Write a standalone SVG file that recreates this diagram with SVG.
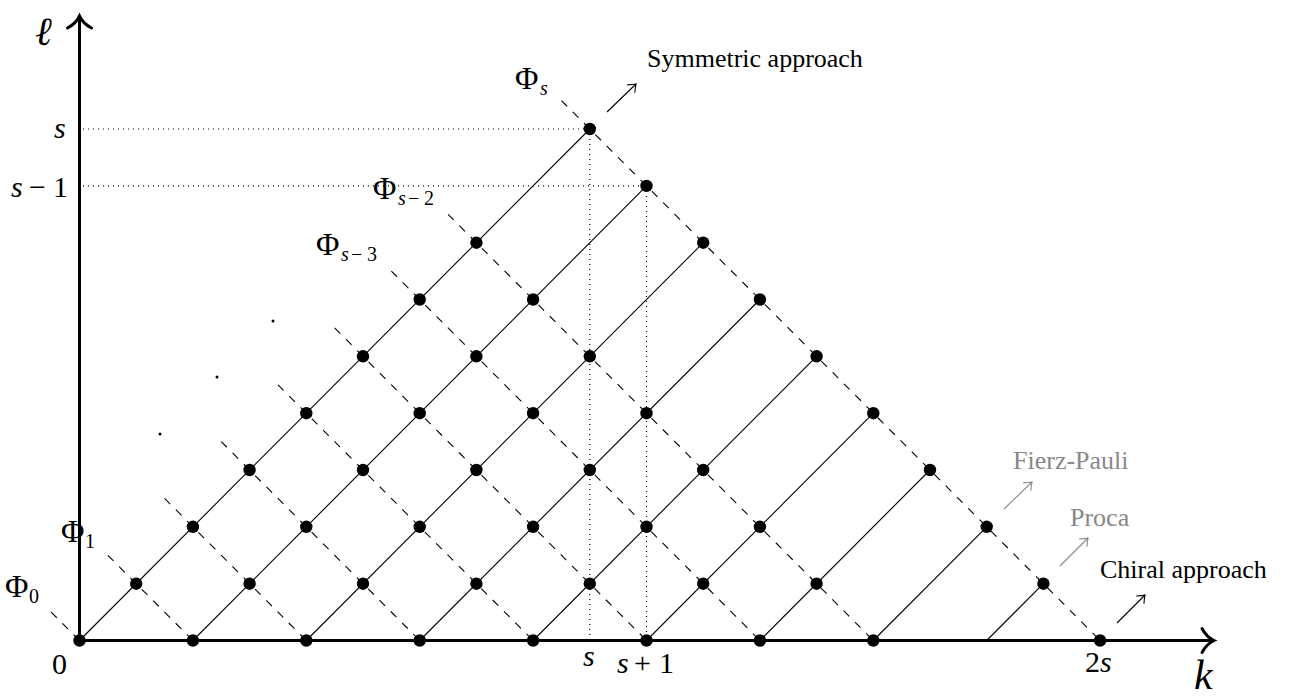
<svg xmlns="http://www.w3.org/2000/svg" width="1292" height="697" viewBox="0 0 1292 697">
<style>
.axis{stroke:#000;stroke-width:3;fill:none;stroke-linecap:round}
.solid{stroke:#000;stroke-width:1.1;fill:none}
.dash{stroke:#000;stroke-width:1.1;fill:none;stroke-dasharray:8 8}
.dot{stroke:#000;stroke-width:1.2;fill:none;stroke-dasharray:1 4}
.node circle{fill:#000}
.arr{stroke:#000;stroke-width:1.1;fill:none}
.garr{stroke:#888;stroke-width:1.1;fill:none}
text{font-family:"Liberation Serif","DejaVu Serif",serif;fill:#000}
.it{font-style:italic}
.lbl{font-size:26px}
.phi{font-size:32px}
.sub{font-size:20px}
.num{font-size:30px}
.gray{fill:#888}
</style>
<defs>
<marker id="tob" markerUnits="userSpaceOnUse" orient="auto" markerWidth="20" markerHeight="20" refX="0" refY="0" viewBox="-10 -10 20 20" overflow="visible">
<path d="M-7,-5.5 Q-2.5,-1.5 0,0 Q-2.5,1.5 -7,5.5" stroke="#000" stroke-width="1.1" fill="none"/>
</marker>
<marker id="tog" markerUnits="userSpaceOnUse" orient="auto" markerWidth="20" markerHeight="20" refX="0" refY="0" viewBox="-10 -10 20 20" overflow="visible">
<path d="M-7,-5.5 Q-2.5,-1.5 0,0 Q-2.5,1.5 -7,5.5" stroke="#888" stroke-width="1.1" fill="none"/>
</marker>
</defs>
<rect width="1292" height="697" fill="#fff"/>

<g id="guides">
<line class="dot" x1="83" y1="129" x2="589.8" y2="129"/>
<line class="dot" x1="83" y1="185.9" x2="646.5" y2="185.9"/>
<line class="dot" x1="589.8" y1="129" x2="589.8" y2="636"/>
<line class="dot" x1="646.5" y1="185.9" x2="646.5" y2="640"/>
</g>

<g id="connectors">
<line class="dash" x1="51.15" y1="612.1" x2="79.5" y2="640.5"/>
<line class="dash" x1="107.85" y1="555.3" x2="192.9" y2="640.5"/>
<line class="dash" x1="164.55" y1="498.4" x2="306.3" y2="640.5"/>
<line class="dash" x1="221.25" y1="441.6" x2="419.7" y2="640.5"/>
<line class="dash" x1="277.95" y1="384.8" x2="533.1" y2="640.5"/>
<line class="dash" x1="334.65" y1="327.9" x2="646.5" y2="640.5"/>
<line class="dash" x1="391.35" y1="271.1" x2="759.9" y2="640.5"/>
<line class="dash" x1="448.05" y1="214.3" x2="873.3" y2="640.5"/>
<line class="dash" x1="561.45" y1="100.6" x2="1100.1" y2="640.5"/>
<line class="solid" x1="79.5" y1="640.5" x2="589.8" y2="129"/>
<line class="solid" x1="192.9" y1="640.5" x2="646.5" y2="185.9"/>
<line class="solid" x1="306.3" y1="640.5" x2="703.2" y2="242.7"/>
<line class="solid" x1="419.7" y1="640.5" x2="759.9" y2="299.5"/>
<line class="solid" x1="533.1" y1="640.5" x2="816.6" y2="356.3"/>
<line class="solid" x1="646.5" y1="640.5" x2="873.3" y2="413.2"/>
<line class="solid" x1="759.9" y1="640.5" x2="930" y2="470"/>
<line class="solid" x1="873.3" y1="640.5" x2="986.7" y2="526.8"/>
<line class="solid" x1="986.7" y1="640.5" x2="1043.4" y2="583.7"/>
<line class="arr" x1="607" y1="112" x2="636" y2="84" marker-end="url(#tob)"/>
<line class="garr" x1="1004" y1="509" x2="1032" y2="482" marker-end="url(#tog)"/>
<line class="garr" x1="1060" y1="566" x2="1088" y2="538" marker-end="url(#tog)"/>
<line class="arr" x1="1117" y1="623" x2="1145" y2="595" marker-end="url(#tob)"/>
</g>

<g id="axes">
<line class="axis" x1="79.5" y1="640.5" x2="79.5" y2="17"/>
<path class="axis" d="M67.5,28 Q76,23.5 79.5,16 Q83,23.5 91.5,28"/>
<line class="axis" x1="79.5" y1="640.5" x2="1213" y2="640.5"/>
<path class="axis" d="M1202,628.5 Q1206.5,637 1214,640.5 Q1206.5,644 1202,652.5"/>
<text class="it" x="35" y="45" font-size="40">ℓ</text>
<text class="it" x="1194" y="689" font-size="42">k</text>
</g>

<g id="ellipsis">
<circle cx="160" cy="434" r="1.5" fill="#000"/>
<circle cx="217" cy="377" r="1.5" fill="#000"/>
<circle cx="273" cy="321" r="1.5" fill="#000"/>
</g>

<g id="n0-0" class="node"><circle cx="79.5" cy="640.5" r="6.2"/></g>
<g id="n2-0" class="node"><circle cx="192.9" cy="640.5" r="6.2"/></g>
<g id="n1-1" class="node"><circle cx="136.2" cy="583.7" r="6.2"/></g>
<g id="n4-0" class="node"><circle cx="306.3" cy="640.5" r="6.2"/></g>
<g id="n3-1" class="node"><circle cx="249.6" cy="583.7" r="6.2"/></g>
<g id="n2-2" class="node"><circle cx="192.9" cy="526.8" r="6.2"/></g>
<g id="n6-0" class="node"><circle cx="419.7" cy="640.5" r="6.2"/></g>
<g id="n5-1" class="node"><circle cx="363" cy="583.7" r="6.2"/></g>
<g id="n4-2" class="node"><circle cx="306.3" cy="526.8" r="6.2"/></g>
<g id="n3-3" class="node"><circle cx="249.6" cy="470" r="6.2"/></g>
<g id="n8-0" class="node"><circle cx="533.1" cy="640.5" r="6.2"/></g>
<g id="n7-1" class="node"><circle cx="476.4" cy="583.7" r="6.2"/></g>
<g id="n6-2" class="node"><circle cx="419.7" cy="526.8" r="6.2"/></g>
<g id="n5-3" class="node"><circle cx="363" cy="470" r="6.2"/></g>
<g id="n4-4" class="node"><circle cx="306.3" cy="413.2" r="6.2"/></g>
<g id="n10-0" class="node"><circle cx="646.5" cy="640.5" r="6.2"/></g>
<g id="n9-1" class="node"><circle cx="589.8" cy="583.7" r="6.2"/></g>
<g id="n8-2" class="node"><circle cx="533.1" cy="526.8" r="6.2"/></g>
<g id="n7-3" class="node"><circle cx="476.4" cy="470" r="6.2"/></g>
<g id="n6-4" class="node"><circle cx="419.7" cy="413.2" r="6.2"/></g>
<g id="n5-5" class="node"><circle cx="363" cy="356.3" r="6.2"/></g>
<g id="n12-0" class="node"><circle cx="759.9" cy="640.5" r="6.2"/></g>
<g id="n11-1" class="node"><circle cx="703.2" cy="583.7" r="6.2"/></g>
<g id="n10-2" class="node"><circle cx="646.5" cy="526.8" r="6.2"/></g>
<g id="n9-3" class="node"><circle cx="589.8" cy="470" r="6.2"/></g>
<g id="n8-4" class="node"><circle cx="533.1" cy="413.2" r="6.2"/></g>
<g id="n7-5" class="node"><circle cx="476.4" cy="356.3" r="6.2"/></g>
<g id="n6-6" class="node"><circle cx="419.7" cy="299.5" r="6.2"/></g>
<g id="n14-0" class="node"><circle cx="873.3" cy="640.5" r="6.2"/></g>
<g id="n13-1" class="node"><circle cx="816.6" cy="583.7" r="6.2"/></g>
<g id="n12-2" class="node"><circle cx="759.9" cy="526.8" r="6.2"/></g>
<g id="n11-3" class="node"><circle cx="703.2" cy="470" r="6.2"/></g>
<g id="n10-4" class="node"><circle cx="646.5" cy="413.2" r="6.2"/></g>
<g id="n9-5" class="node"><circle cx="589.8" cy="356.3" r="6.2"/></g>
<g id="n8-6" class="node"><circle cx="533.1" cy="299.5" r="6.2"/></g>
<g id="n7-7" class="node"><circle cx="476.4" cy="242.7" r="6.2"/></g>
<g id="n18-0" class="node"><circle cx="1100.1" cy="640.5" r="6.2"/></g>
<g id="n17-1" class="node"><circle cx="1043.4" cy="583.7" r="6.2"/></g>
<g id="n16-2" class="node"><circle cx="986.7" cy="526.8" r="6.2"/></g>
<g id="n15-3" class="node"><circle cx="930" cy="470" r="6.2"/></g>
<g id="n14-4" class="node"><circle cx="873.3" cy="413.2" r="6.2"/></g>
<g id="n13-5" class="node"><circle cx="816.6" cy="356.3" r="6.2"/></g>
<g id="n12-6" class="node"><circle cx="759.9" cy="299.5" r="6.2"/></g>
<g id="n11-7" class="node"><circle cx="703.2" cy="242.7" r="6.2"/></g>
<g id="n10-8" class="node"><circle cx="646.5" cy="185.9" r="6.2"/></g>
<g id="n9-9" class="node"><circle cx="589.8" cy="129" r="6.2"/></g>

<g id="labels">
<text class="phi" x="5" y="597">Φ<tspan class="sub" x="29" y="603">0</tspan></text>
<text class="phi" x="61" y="542">Φ<tspan class="sub" x="85" y="548">1</tspan></text>
<text class="phi" x="316" y="255">Φ<tspan class="sub it" x="341" y="261">s</tspan><tspan class="sub" x="351" y="261">−</tspan><tspan class="sub" x="367" y="261">3</tspan></text>
<text class="phi" x="373" y="199">Φ<tspan class="sub it" x="398" y="205">s</tspan><tspan class="sub" x="408" y="205">−</tspan><tspan class="sub" x="424" y="205">2</tspan></text>
<text class="phi" x="515" y="89">Φ<tspan class="sub it" x="540" y="95">s</tspan></text>
<text class="it num" x="54" y="138">s</text>
<text class="num" x="11" y="197"><tspan class="it">s</tspan><tspan x="29">−</tspan><tspan x="53">1</tspan></text>
<text class="num" x="52" y="674">0</text>
<text class="it num" x="583" y="666">s</text>
<text class="num" x="617" y="673"><tspan class="it">s</tspan><tspan x="634">+</tspan><tspan x="659">1</tspan></text>
<text class="num" x="1085" y="672">2<tspan class="it">s</tspan></text>
<text class="lbl" x="647" y="67">Symmetric approach</text>
<text class="lbl gray" x="1013" y="469">Fierz-Pauli</text>
<text class="lbl gray" x="1070" y="526">Proca</text>
<text class="lbl" x="1100" y="578">Chiral approach</text>
</g>
</svg>
